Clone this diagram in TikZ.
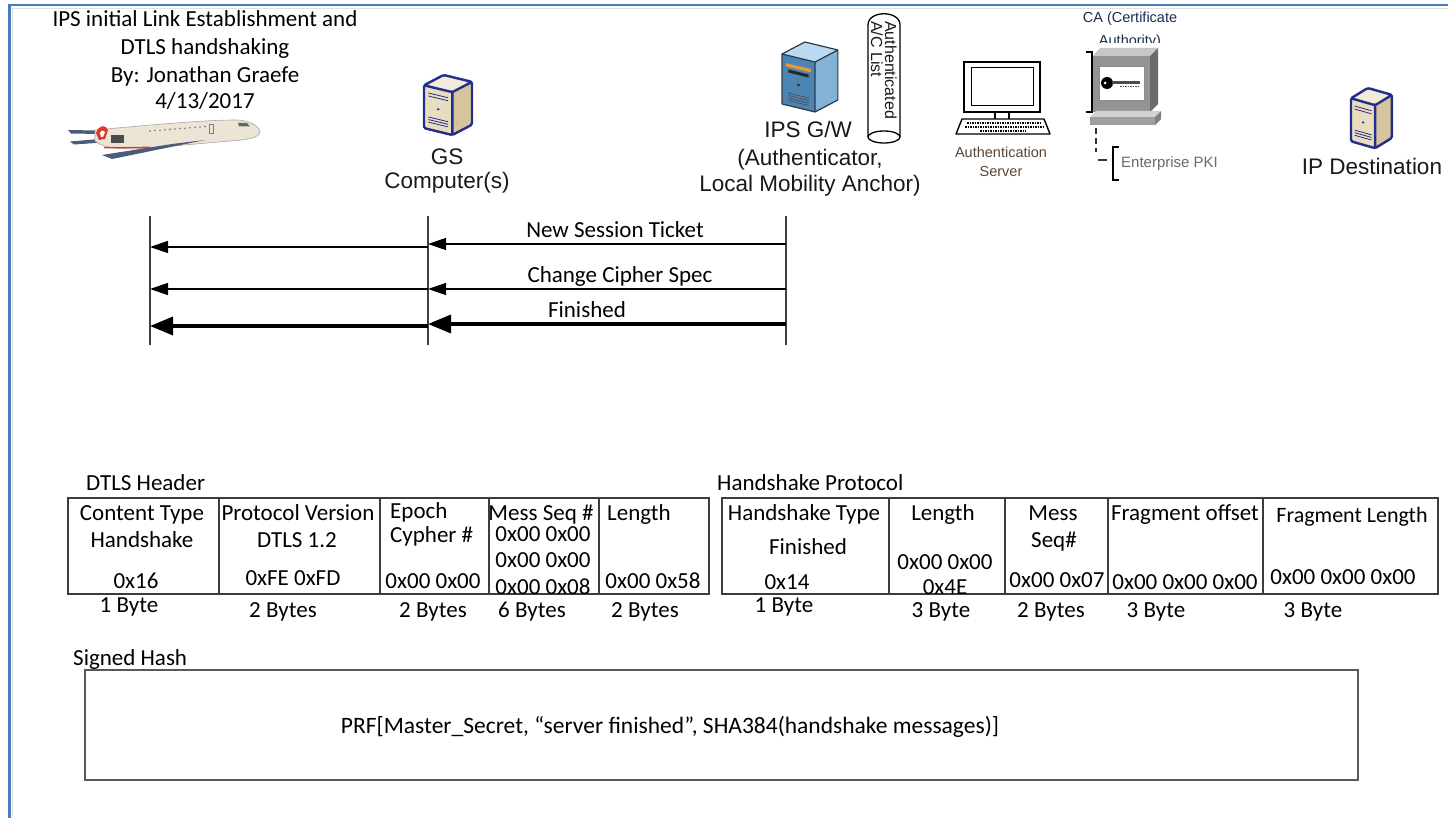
\documentclass[tikz,border=0pt]{standalone}
\usepackage{fontspec}
\setmainfont{Carlito}
\newfontfamily\arialfont{Liberation Sans}
\usetikzlibrary{arrows.meta}

\definecolor{frameblue}{HTML}{4A7EBB}
\definecolor{gsbeigefront}{HTML}{E9DDBF}
\definecolor{gsbeigeside}{HTML}{D6C49C}
\definecolor{gsbeigetop}{HTML}{F3EBD9}
\definecolor{gsblue}{HTML}{232E8C}
\definecolor{gwfront}{HTML}{4C84B3}
\definecolor{gwside}{HTML}{82B2D5}
\definecolor{gwtop}{HTML}{BBDAEF}
\definecolor{gwline}{HTML}{2C3A48}
\definecolor{gworange}{HTML}{E39A3B}
\definecolor{brownlabel}{HTML}{5B4636}
\definecolor{calabel}{HTML}{1C2B4E}
\definecolor{pkigray}{HTML}{6A6A6A}
\definecolor{planebody}{HTML}{ECE4D4}
\definecolor{planewing}{HTML}{4B5B7A}
\definecolor{planered}{HTML}{DD3B2A}
\definecolor{cellline}{HTML}{3C3C3C}

\tikzset{
  % beige workstation tower with a blue outline
  pics/gstower/.style={code={
    \fill[gsbeigefront] (0,12) -- (26,20) -- (26,70) -- (0,62) -- cycle;
    \fill[gsbeigeside] (26,20) -- (44,8) -- (44,58) -- (26,70) -- cycle;
    \fill[gsbeigetop] (0,12) -- (18,0) -- (44,8) -- (26,20) -- cycle;
    \draw[gsblue, line width=0.8] (4,21) -- (22,26.5) (4,24.5) -- (22,30)
      (4,49) -- (22,54.5) (4,52) -- (22,57.5) (4,55) -- (22,60.5);
    \fill[gsblue] (13,40) circle (1.4);
    \draw[gsblue, line width=2.4, line join=round, rounded corners=1.5]
      (0,12) -- (18,0) -- (44,8) -- (44,58) -- (26,70) -- (0,62) -- cycle
      (0,12) -- (26,20) -- (44,8) (26,20) -- (26,70);
  }},
  % blue rack server of the gateway
  pics/gwtower/.style={code={
    \fill[gwfront] (0,12) -- (26,20) -- (26,70) -- (0,62) -- cycle;
    \fill[gwside] (26,20) -- (44,8) -- (44,58) -- (26,70) -- cycle;
    \fill[gwtop] (0,12) -- (18,0) -- (44,8) -- (26,20) -- cycle;
    \fill[gworange] (3,21) -- (23,27) -- (23,30.5) -- (3,24.5) -- cycle;
    \fill[black!85] (5,27.5) -- (21,32.5) -- (21,35.5) -- (5,30.5) -- cycle;
    \fill[black!80] (13,43) circle (1.5);
    \draw[black!70, line width=0.7] (5,51) -- (21,56) (5,53.5) -- (21,58.5)
      (5,56) -- (21,61) (5,58.5) -- (21,63.5);
    \draw[gwline, line width=1.2, line join=round]
      (0,12) -- (18,0) -- (44,8) -- (44,58) -- (26,70) -- (0,62) -- cycle
      (0,12) -- (26,20) -- (44,8) (26,20) -- (26,70);
  }},
}

\begin{document}
\begin{tikzpicture}[x=1pt, y=-1pt,
  cal/.style={font=\fontsize{23}{27}\selectfont, inner sep=0pt, anchor=base, text=black},
  arl/.style={font=\arialfont\fontsize{22.5}{27}\selectfont, inner sep=0pt, anchor=base, text=black!90},
  arls/.style={font=\arialfont\fontsize{14.5}{18}\selectfont, inner sep=0pt, anchor=base},
  cyltxt/.style={font=\arialfont\fontsize{16}{18}\selectfont, inner sep=0pt, rotate=-90, anchor=base west, text=black!90},
  lifeline/.style={draw=black!75, line width=1.2pt},
  msgthin/.style={draw=black, line width=1.3pt, -{Triangle[length=18pt,width=12pt]}},
  msgthick/.style={draw=black, line width=3.4pt, -{Triangle[length=23pt,width=18pt]}},
  field/.style={draw=cellline, line width=1.6pt, anchor=north west, inner sep=0pt, minimum height=96pt},
]
\useasboundingbox (0,0) rectangle (1448,818);
\fill[white] (0,0) rectangle (1448,818);

% page frame
\draw[black!12, line width=1.2pt] (12.5,818) -- (12.5,8.5) -- (1448,8.5);
\draw[frameblue, line width=2.2pt] (9.5,818) -- (9.5,5) -- (1448,5);

% title block
\node[cal] (t1) at (205,27) {IPS initial Link Establishment and};
\node[cal] (t2) at (205,55) {DTLS handshaking};
\node[cal] (t3) at (205,83) {By: Jonathan Graefe};
\node[cal] (t4) at (205,109) {4/13/2017};

% aircraft
\fill[planewing] (68,130) -- (98,130.5) -- (100,134) -- (71,133.5) -- cycle;
\fill[planewing] (70,141.5) -- (100,139) -- (103,142.5) -- (74,144.5) -- cycle;
\fill[planebody, draw=black!35, line width=0.6pt]
  (95,130) .. controls (140,126) and (200,120) .. (236,120)
  .. controls (252,120) and (260,128) .. (260,132)
  .. controls (259,138) and (246,140) .. (230,141)
  -- (150,148) .. controls (125,150) and (104,149) .. (95,141) -- cycle;
\fill[planered] (96,133) .. controls (98,125) and (106,124) .. (108,130) -- (105,139) -- (99,140) -- cycle;
\fill[white] (100,133) .. controls (101,130) and (104,130) .. (105,132) -- (103,137) -- (101,137) -- cycle;
\fill[black!70] (111,135) rectangle (124,143);
\fill[planewing] (205,140) -- (172,144) -- (102,155) -- (112,159) -- cycle;
\fill[planered] (104,147) -- (150,146.7) -- (150,148.1) -- (104,148.5) -- cycle;
\foreach \wx in {150,155,...,205} \fill[black!55] (\wx,{131-(\wx-150)*0.08}) circle (0.9);
\draw[black!50, line width=0.6pt] (209,124) rectangle (213,133);
\fill[black!60] (238,123) -- (247,123) -- (250,126.5) -- (239,126.5) -- cycle;

% ground station
\pic[xscale=1.09, yscale=0.857] (gs) at (424,75) {gstower};
\node[arl] (gs-l1) at (447,165) {GS};
\node[arl] (gs-l2) at (447,189) {Computer(s)};

% gateway
\pic[xscale=1.27] (gw) at (782,42) {gwtower};
\node[arl] (gw-l1) at (808,138) {IPS G/W};
\node[arl] (gw-l2) at (810,166) {(Authenticator,};
\node[arl] (gw-l3) at (810,192) {Local Mobility Anchor)};

% authenticated aircraft list (database cylinder)
\draw[fill=white, line width=1.3pt] (868,137) -- (868,25) .. controls (868,10) and (900,10) .. (900,25) -- (900,137);
\draw[fill=white, line width=1.3pt] (884,137) ellipse [x radius=16, y radius=6];
\node[cyltxt] (acl1) at (885,21) {Authenticated};
\node[cyltxt] (acl2) at (871,21) {A/C List};

% authentication server workstation
\draw[fill=white, line width=1.6pt] (964,62) rectangle (1040,112);
\draw[line width=1pt] (971,68) rectangle (1033,106);
\draw[line width=1.2pt] (995,112) -- (995,119) (1009,112) -- (1009,119);
\draw[fill=white, line width=1.4pt, line join=round] (962,119) -- (1044,119) -- (1050,134) -- (956,134) -- cycle;
\draw[line width=1.8pt, dash pattern=on 1.5pt off 1pt] (967,123) -- (1040,123) (965,127) -- (1043,127) (980,131) -- (1026,131);
\node[arls, text=brownlabel] (as-l1) at (1001,158) {Authentication};
\node[arls, text=brownlabel] (as-l2) at (1001,177) {Server};

% certificate authority
\begin{scope}
  \clip (1060,0) rectangle (1200,43);
  \node[arls, text=calabel] (ca-l1) at (1130,23) {CA (Certificate};
  \node[arls, text=calabel] (ca-l2) at (1130,46) {Authority)};
\end{scope}
\fill[black!22] (1093,56) -- (1100,48) -- (1158,48) -- (1150,56) -- cycle;
\fill[black!42] (1093,56) rectangle (1150,112);
\fill[black!58] (1150,56) -- (1158,48) -- (1158,104) -- (1150,112) -- cycle;
\draw[black!45, fill=white, line width=0.8pt] (1099,66) rectangle (1144,100);
\fill[black] (1107,83) circle (6);
\fill[white] (1105,83) circle (1.5);
\fill[black!70] (1112,81) rectangle (1140,84.5);
\draw[black!70, line width=1.2pt, dash pattern=on 1.5pt off 1pt] (1120,86.5) -- (1138,86.5);
\fill[black!18] (1090,117) -- (1096,111) -- (1161,111) -- (1155,117) -- cycle;
\fill[black!38] (1090,117) rectangle (1155,125);
\fill[black!50] (1155,117) -- (1161,111) -- (1161,119) -- (1155,125) -- cycle;
\draw[black, line width=1.5pt] (1086,52) -- (1092,52) -- (1092,112) -- (1086,112);
\draw[black!80, line width=1.2pt, dash pattern=on 6pt off 4pt] (1096,128) -- (1096,152);
\draw[black!80, line width=1.2pt] (1098,160) -- (1107,160);
\draw[black, line width=2pt] (1119,147) -- (1113,147) -- (1113,180) -- (1119,180);
\node[arls, text=pkigray, anchor=base west, font=\arialfont\fontsize{15}{18}\selectfont] (pki) at (1121,168) {Enterprise PKI};

% destination host
\pic[xscale=0.93, yscale=0.86] (ipd) at (1351,88) {gstower};
\node[arl] (ipd-l) at (1372,175) {IP Destination};

% lifelines
\coordinate (ac-top) at (150,216);  \coordinate (ac-bot) at (150,345);
\coordinate (gs-top) at (428,216);  \coordinate (gs-bot) at (428,345);
\coordinate (gw-top) at (786,216);  \coordinate (gw-bot) at (786,345);
\draw[lifeline] (ac-top) -- (ac-bot);
\draw[lifeline] (gs-top) -- (gs-bot);
\draw[lifeline] (gw-top) -- (gw-bot);

% messages
\coordinate (m1-gw) at (786,244);  \coordinate (m1-gs) at (428,244);
\coordinate (m1-gs2) at (428,247); \coordinate (m1-ac) at (150,247);
\coordinate (m2-gw) at (786,289);  \coordinate (m2-gs) at (428,289);
\coordinate (m2-gs2) at (428,289); \coordinate (m2-ac) at (150,289);
\coordinate (m3-gw) at (786,324);  \coordinate (m3-gs) at (428,324);
\coordinate (m3-gs2) at (428,326); \coordinate (m3-ac) at (150,326);
\draw[msgthin] (m1-gw) -- (m1-gs);
\draw[msgthin] (m1-gs2) -- (m1-ac);
\draw[msgthin] (m2-gw) -- (m2-gs);
\draw[msgthin] (m2-gs2) -- (m2-ac);
\draw[msgthick] (m3-gw) -- (m3-gs);
\draw[msgthick] (m3-gs2) -- (m3-ac);
\node[cal] (m1-l) at (615,238) {New Session Ticket};
\node[cal] (m2-l) at (620,283) {Change Cipher Spec};
\node[cal] (m3-l) at (587,317) {Finished};

% DTLS header
\node[cal, anchor=base west] (dtls-l) at (86,490) {DTLS Header};
\node[field, minimum width=151pt] (dt-ct) at (67,497) {};
\node[field, minimum width=161pt] (dt-pv) at (218,497) {};
\node[field, minimum width=109pt] (dt-ep) at (379,497) {};
\node[field, minimum width=110pt] (dt-ms) at (488,497) {};
\node[field, minimum width=110pt] (dt-ln) at (598,497) {};
\node[cal] (ct-a) at (142,520) {Content Type};
\node[cal] (ct-b) at (142,547) {Handshake};
\node[cal] (ct-c) at (136,588) {0x16};
\node[cal] (pv-a) at (298,520) {Protocol Version};
\node[cal] (pv-b) at (297,547) {DTLS 1.2};
\node[cal] (pv-c) at (293,585) {0xFE 0xFD};
\node[cal, anchor=base west] (ep-a) at (390,518) {Epoch};
\node[cal, anchor=base west] (ep-b) at (390,542) {Cypher \#};
\node[cal] (ep-c) at (433,588) {0x00 0x00};
\node[cal] (ms-a) at (541,520) {Mess Seq \#};
\node[cal] (ms-b) at (543,541) {0x00 0x00};
\node[cal] (ms-c) at (543,567) {0x00 0x00};
\node[cal] (ms-d) at (543,594) {0x00 0x08};
\node[cal, anchor=base west] (ln-a) at (607,520) {Length};
\node[cal] (ln-b) at (653,588) {0x00 0x58};
\node[cal] (dt-s1) at (129,612) {1 Byte};
\node[cal] (dt-s2) at (283,617) {2 Bytes};
\node[cal] (dt-s3) at (433,617) {2 Bytes};
\node[cal] (dt-s4) at (532,617) {6 Bytes};
\node[cal] (dt-s5) at (645,617) {2 Bytes};

% handshake protocol
\node[cal, anchor=base west] (hp-l) at (717,490) {Handshake Protocol};
\node[field, minimum width=167pt] (hp-ty) at (721,497) {};
\node[field, minimum width=116pt] (hp-ln) at (888,497) {};
\node[field, minimum width=103pt] (hp-ms) at (1004,497) {};
\node[field, minimum width=155pt] (hp-fo) at (1107,497) {};
\node[field, minimum width=175pt] (hp-fl) at (1262,497) {};
\node[cal] (ty-a) at (804,520) {Handshake Type};
\node[cal] (ty-b) at (808,554) {Finished};
\node[cal] (ty-c) at (787,589) {0x14};
\node[cal] (hl-a) at (943,520) {Length};
\node[cal] (hl-b) at (945,569) {0x00 0x00};
\node[cal] (hl-c) at (945,594) {0x4E};
\node[cal] (hm-a) at (1053,520) {Mess};
\node[cal] (hm-b) at (1054,547) {Seq\#};
\node[cal] (hm-c) at (1057,587) {0x00 0x07};
\node[cal] (fo-a) at (1185,520) {Fragment offset};
\node[cal] (fo-b) at (1185,589) {0x00 0x00 0x00};
\node[cal, font=\fontsize{22}{26}\selectfont] (fl-a) at (1352,522) {Fragment Length};
\node[cal] (fl-b) at (1343,584) {0x00 0x00 0x00};
\node[cal] (hp-s1) at (784,612) {1 Byte};
\node[cal] (hp-s2) at (941,617) {3 Byte};
\node[cal] (hp-s3) at (1051,617) {2 Bytes};
\node[cal] (hp-s4) at (1156,617) {3 Byte};
\node[cal] (hp-s5) at (1313,617) {3 Byte};

% signed hash
\node[cal, anchor=base west] (sh-l) at (73,665) {Signed Hash};
\node[draw=black!65, line width=2pt, anchor=north west, inner sep=0pt, minimum width=1273pt, minimum height=110pt] (hashbox) at (84,669) {};
\node[cal, font=\fontsize{23.5}{27}\selectfont] (prf) at (670,733) {PRF[Master\_Secret, “server finished”, SHA384(handshake messages)]};
\end{tikzpicture}
\end{document}
